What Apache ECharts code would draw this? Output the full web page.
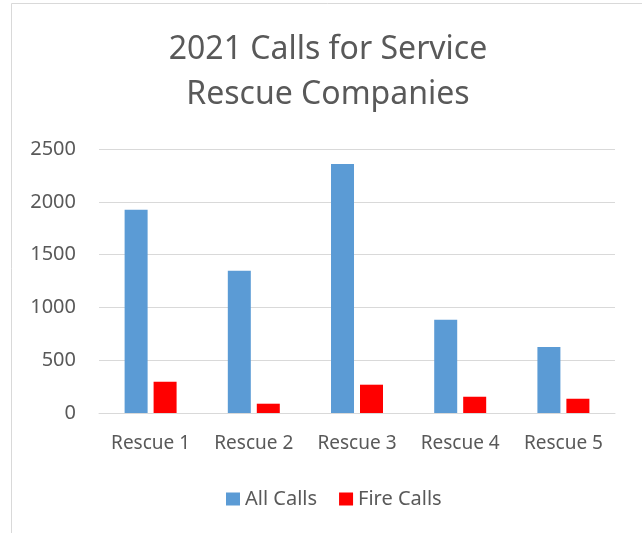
<!DOCTYPE html>
<html>
<head>
<meta charset="utf-8">
<script src="https://cdn.jsdelivr.net/npm/echarts@6/dist/echarts.min.js"></script>
<style>
html,body{margin:0;padding:0;background:#fff;}
#c{width:642px;height:533px;}
</style>
</head>
<body>
<div id="c"></div>
<script>
const categories = ['Rescue 1', 'Rescue 2', 'Rescue 3', 'Rescue 4', 'Rescue 5'];
const allCalls = [1925, 1347, 2358, 884, 625];
const fireCalls = [296, 88, 268, 154, 135];
const yTicks = [0, 500, 1000, 1500, 2000, 2500];

const FONT = '"Noto Sans", "DejaVu Sans", sans-serif';
const TXT = '#595959';
const chart = echarts.init(document.getElementById('c'), null, {renderer: 'canvas'});
chart.setOption({
  backgroundColor: '#ffffff',
  animation: false,
  graphic: [{
    type: 'rect', silent: true, z: -10,
    shape: {x: 11.5, y: 3.5, width: 700, height: 600},
    style: {fill: 'none', stroke: '#d9d9d9', lineWidth: 1}
  }],
  title: {
    text: '2021 Calls for Service\nRescue Companies',
    left: 328, top: 27, padding: 0, textAlign: 'center',
    textStyle: {fontFamily: FONT, fontSize: 32, fontWeight: 'normal', color: TXT, lineHeight: 45}
  },
  legend: {
    left: 221, top: 484,
    itemWidth: 14, itemHeight: 13, itemGap: 22,
    icon: 'rect',
    textStyle: {fontFamily: FONT, fontSize: 20, color: TXT},
    data: ['All Calls', 'Fire Calls']
  },
  grid: {left: 99, right: 27, top: 149, bottom: 120, containLabel: false},
  xAxis: {
    type: 'category', data: categories,
    axisTick: {show: false},
    axisLine: {lineStyle: {color: '#d9d9d9', width: 1}},
    axisLabel: {fontFamily: FONT, fontSize: 19, color: TXT, margin: 21, interval: 0, hideOverlap: false}
  },
  yAxis: {
    type: 'value', min: yTicks[0], max: yTicks[yTicks.length - 1], interval: yTicks[1] - yTicks[0],
    axisLine: {show: false}, axisTick: {show: false},
    splitLine: {lineStyle: {color: '#d9d9d9', width: 1}},
    axisLabel: {fontFamily: FONT, fontSize: 20, color: TXT, margin: 23, formatter: v => String(v)}
  },
  series: [
    {name: 'All Calls', type: 'bar', data: allCalls, barWidth: 23, barGap: '26%',
     itemStyle: {color: '#5b9bd5'}},
    {name: 'Fire Calls', type: 'bar', data: fireCalls, barWidth: 23, barGap: '26%',
     itemStyle: {color: '#ff0000'}}
  ]
});
</script>
</body>
</html>
